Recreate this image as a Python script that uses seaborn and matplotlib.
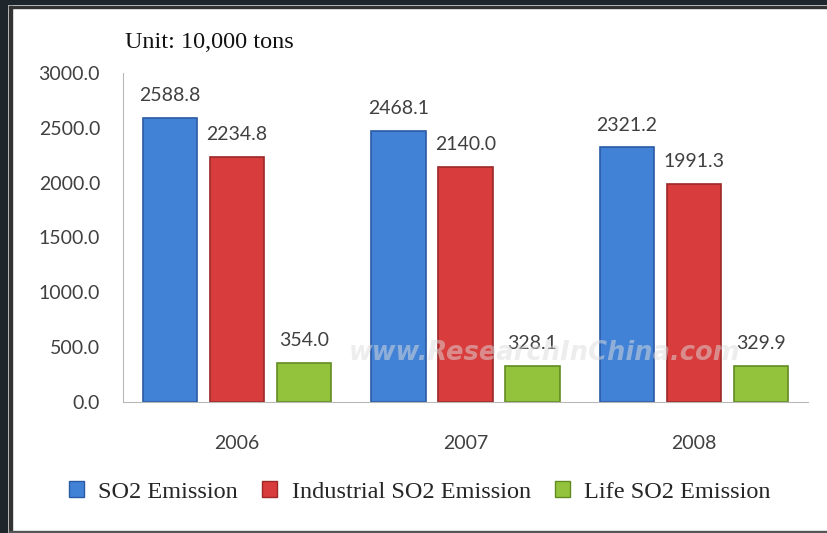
import pandas as pd
import matplotlib.pyplot as plt
import seaborn as sns
from matplotlib.patches import Rectangle

# date (10,000 tone)
years = ["2006", "2007", "2008"]
series = ["SO2 Emission", "Industrial SO2 Emission", "Life SO2 Emission"]
so2 = [2588.8, 2468.1, 2321.2]
industrial = [2234.8, 2140.0, 1991.3]
life = [354.0, 328.1, 329.9]

colors = ["#4282d6", "#d83c3c", "#93c23c"]
edges = ["#2a5aa3", "#9c2828", "#628c22"]

df = pd.DataFrame({
    "year": years * 3,
    "series": [series[0]] * 3 + [series[1]] * 3 + [series[2]] * 3,
    "value": so2 + industrial + life,
})

sns.set_style("white")
fig = plt.figure(figsize=(8.28, 5.33), dpi=100)
fig.patch.set_facecolor("white")
ax = fig.add_axes([123 / 828, 131 / 533, 685 / 828, 329 / 533])

sns.barplot(data=df, x="year", y="value", hue="series", palette=colors,
            width=0.88, gap=0.19, ax=ax, legend=False, saturation=1)

for cont, ec in zip(ax.containers, edges):
    for bar in cont:
        bar.set_edgecolor(ec)
        bar.set_linewidth(1.2)
    ax.bar_label(cont, fmt="%.1f", padding=10, fontsize=14, color="#404040", family="Lato")

ax.set_ylim(0, 3000)
ax.set_yticks(range(0, 3001, 500))
ax.set_yticklabels([f"{v:.1f}" for v in range(0, 3001, 500)])
ax.set_xlim(-0.5, 2.5)
ax.set_xlabel("")
ax.set_ylabel("")
ax.tick_params(axis="y", length=0, pad=16.5, labelsize=14, labelcolor="#404040")
ax.tick_params(axis="x", length=0, pad=24, labelsize=14, labelcolor="#404040")
for lbl in ax.get_xticklabels() + ax.get_yticklabels():
    lbl.set_family("Lato")
sns.despine(ax=ax)
ax.spines["left"].set_color("#b8b8b8")
ax.spines["bottom"].set_color("#b8b8b8")

# watermark peste bare, foarte sters
ax.text(0.616, 0.15, "www.ResearchInChina.com", transform=ax.transAxes,
        ha="center", va="center", fontsize=18.5, style="italic", weight="bold",
        color="#dcdcdc", alpha=0.5, family="DejaVu Sans", zorder=5)

fig.text(125 / 828, 1 - 42 / 533, "Unit: 10,000 tons", ha="left", va="center",
         fontsize=17.5, family="Liberation Serif", color="#111111")

handles = [Rectangle((0, 0), 1, 1, facecolor=c, edgecolor=e) for c, e in zip(colors, edges)]
fig.legend(handles, series, loc="center", bbox_to_anchor=(420 / 828, 1 - 492 / 533),
           ncol=3, frameon=False, handlelength=0.6, handleheight=0.6,
           handletextpad=0.6, columnspacing=1.0,
           prop={"family": "Liberation Serif", "size": 17.5})

# rama inchisa din captura
W, H = 828, 533
fig.add_artist(Rectangle((0, 0), 7 / W, 1, transform=fig.transFigure, color="#1e262c", zorder=10))
fig.add_artist(Rectangle((0, 1 - 4 / H), 1, 4 / H, transform=fig.transFigure, color="#1e262c", zorder=10))
fig.add_artist(Rectangle((9 / W, 0), 3 / W, 1 - 6 / H, transform=fig.transFigure, color="#333333", zorder=10))
fig.add_artist(Rectangle((9 / W, 1 - 8 / H), 1, 2 / H, transform=fig.transFigure, color="#333333", zorder=10))
fig.add_artist(Rectangle((9 / W, 0), 1, 2 / H, transform=fig.transFigure, color="#555555", zorder=10))

fig.savefig("out.png", dpi=100)
